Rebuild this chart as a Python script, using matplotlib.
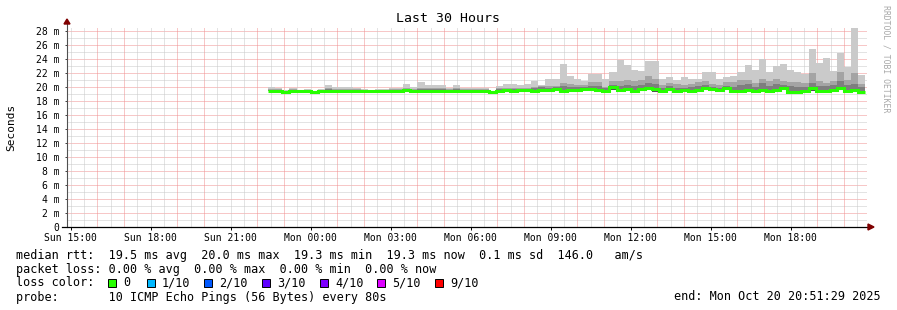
import matplotlib
matplotlib.use("Agg")
import matplotlib.pyplot as plt
from matplotlib.patches import Rectangle, Polygon
from matplotlib.lines import Line2D
import numpy as np

plt.rcParams['font.family'] = ['DejaVu Sans Mono', 'DejaVu Sans']

# ---------------- data ----------------
TITLE = "Last 30 Hours"
Y_LABEL = "Seconds"
WATERMARK = "RRDTOOL / TOBI OETIKER"

# time axis in hours since Sun 00:00
VIEW_START_H = 14 + 51 / 60 + 29 / 3600   # Sun 14:51:29
VIEW_END_H = 44 + 51 / 60 + 29 / 3600     # Mon 20:51:29
X_TICK_HOURS = [15, 18, 21, 24, 27, 30, 33, 36, 39, 42]
X_TICK_LABELS = ["Sun 15:00", "Sun 18:00", "Sun 21:00", "Mon 00:00", "Mon 03:00",
                 "Mon 06:00", "Mon 09:00", "Mon 12:00", "Mon 15:00", "Mon 18:00"]
Y_TICKS = [0, 2, 4, 6, 8, 10, 12, 14, 16, 18, 20, 22, 24, 26, 28]
Y_TICK_LABELS = ["0", "2 m", "4 m", "6 m", "8 m", "10 m", "12 m", "14 m", "16 m",
                 "18 m", "20 m", "22 m", "24 m", "26 m", "28 m"]

# consolidated bins (16 min each) starting Sun 22:24
BIN_START_H = 22.4
BIN_MINUTES = 16

# median rtt per bin (ms)
median = [19.5, 19.5, 19.3, 19.5, 19.5, 19.5, 19.3, 19.5, 19.5, 19.5,
          19.5, 19.5, 19.5, 19.5, 19.5, 19.5, 19.5, 19.5, 19.5, 19.6,
          19.5, 19.5, 19.5, 19.5, 19.5, 19.5, 19.5, 19.5, 19.5, 19.5,
          19.5, 19.3, 19.5, 19.6, 19.5, 19.6, 19.6, 19.5, 19.6, 19.6,
          19.7, 19.5, 19.6, 19.6, 19.7, 19.7, 19.6, 19.5, 20.0, 19.6,
          19.7, 19.5, 19.7, 19.9, 19.7, 19.5, 19.7, 19.5, 19.6, 19.5,
          19.6, 19.9, 19.7, 19.6, 19.8, 19.5, 19.5, 19.6, 19.5, 19.6,
          19.4, 19.6, 19.8, 19.3, 19.3, 19.5, 19.8, 19.5, 19.5, 19.6,
          19.8, 19.5, 19.6, 19.3]
# smallest ping per bin (ms)
ping_min = [19.4, 19.4, 19.2, 19.4, 19.4, 19.4, 19.2, 19.4, 19.4, 19.4,
            19.4, 19.4, 19.4, 19.4, 19.4, 19.4, 19.4, 19.4, 19.4, 19.5,
            19.4, 19.4, 19.4, 19.4, 19.4, 19.4, 19.4, 19.4, 19.4, 19.4,
            19.4, 19.2, 19.4, 19.5, 19.4, 19.5, 19.5, 19.4, 19.4, 19.5,
            19.5, 19.3, 19.4, 19.4, 19.6, 19.4, 19.5, 19.4, 19.6, 19.5,
            19.5, 19.4, 19.5, 19.7, 19.3, 19.4, 19.6, 19.4, 19.5, 19.4,
            19.5, 19.7, 19.6, 19.5, 19.6, 19.4, 19.2, 19.5, 19.4, 19.3,
            19.3, 19.5, 19.6, 19.2, 19.1, 19.4, 19.5, 19.4, 19.4, 19.4,
            19.6, 19.2, 19.4, 19.2]
# upper smoke levels per bin (ms): 8th, 9th and 10th of 10 sorted pings
ping_8 = [19.6, 19.6, 19.4, 19.6, 19.6, 19.6, 19.4, 19.6, 19.7, 19.6,
          19.6, 19.6, 19.6, 19.6, 19.6, 19.6, 19.6, 19.6, 19.6, 19.7,
          19.6, 19.7, 19.7, 19.7, 19.7, 19.6, 19.7, 19.6, 19.6, 19.6,
          19.6, 19.4, 19.7, 19.7, 19.7, 19.7, 19.7, 19.8, 20.0, 19.9,
          20.0, 20.2, 20.0, 20.0, 20.0, 20.2, 20.1, 19.8, 20.3, 20.2,
          20.3, 20.2, 20.3, 20.6, 20.4, 19.9, 20.1, 19.9, 19.9, 20.0,
          20.1, 20.3, 20.0, 19.9, 20.2, 20.0, 20.3, 20.4, 20.0, 20.6,
          20.2, 20.4, 20.3, 20.1, 20.0, 20.0, 20.6, 20.2, 20.1, 20.3,
          20.8, 20.3, 20.5, 20.0]
ping_9 = [19.7, 19.7, 19.5, 19.7, 19.6, 19.6, 19.4, 19.6, 19.8, 19.7,
          19.7, 19.7, 19.7, 19.6, 19.6, 19.6, 19.6, 19.7, 19.7, 19.9,
          19.7, 19.9, 19.8, 19.8, 19.8, 19.7, 19.8, 19.7, 19.7, 19.7,
          19.7, 19.4, 19.8, 19.9, 19.8, 19.9, 19.9, 20.0, 20.2, 20.1,
          20.2, 20.6, 20.4, 20.3, 20.3, 20.7, 20.7, 20.0, 20.8, 20.9,
          21.0, 20.9, 21.0, 21.6, 21.1, 20.3, 20.6, 20.5, 20.3, 20.5,
          20.7, 20.8, 20.5, 20.3, 20.7, 20.7, 21.0, 21.0, 20.6, 21.2,
          20.8, 21.1, 20.8, 20.7, 20.7, 20.6, 22.0, 20.8, 20.6, 20.8,
          22.1, 21.0, 22.0, 20.5]
ping_max = [20.0, 19.9, 19.6, 19.9, 19.6, 19.7, 19.5, 19.7, 20.3, 20.0,
            20.0, 20.0, 19.9, 19.7, 19.6, 19.7, 19.7, 19.8, 19.9, 20.5,
            20.0, 20.7, 20.3, 20.3, 20.3, 19.8, 20.3, 19.9, 19.8, 19.8,
            19.8, 19.5, 20.1, 20.5, 20.4, 20.3, 20.5, 20.9, 20.3, 21.1,
            21.2, 23.3, 21.6, 21.1, 20.9, 21.9, 21.9, 21.2, 22.1, 23.9,
            23.1, 22.4, 22.3, 23.7, 23.7, 21.2, 21.5, 21.0, 21.5, 21.2,
            21.1, 22.1, 22.2, 21.1, 21.5, 21.6, 22.2, 23.1, 22.4, 24.0,
            22.1, 23.0, 23.3, 22.4, 22.1, 21.8, 25.4, 23.5, 24.2, 22.3,
            24.9, 22.8, 28.4, 21.7]

LEGEND_ROW1 = "median rtt:  19.5 ms avg  20.0 ms max  19.3 ms min  19.3 ms now  0.1 ms sd  146.0   am/s"
LEGEND_ROW2 = "packet loss: 0.00 % avg  0.00 % max  0.00 % min  0.00 % now"
LOSS_TITLE = "loss color:"
LOSS_LABELS = ["0", "1/10", "2/10", "3/10", "4/10", "5/10", "9/10"]
LOSS_COLORS = ["#26ff00", "#00b8ff", "#0059ff", "#5e00ff", "#7e00ff", "#dd00ff", "#ff0000"]
PROBE_TEXT = "probe:       10 ICMP Echo Pings (56 Bytes) every 80s"
END_TEXT = "end: Mon Oct 20 20:51:29 2025"

SMOKE_COLORS = ["#cacaca", "#a4a4a4", "#7e7e7e", "#505050"]
MEDIAN_COLOR = "#26ff00"

# ---------------- figure ----------------
W, H, DPI = 897, 310, 100
fig = plt.figure(figsize=(W / DPI, H / DPI), dpi=DPI)
fig.patch.set_facecolor("white")

PL, PR, PB, PT = 67, 867, 227, 27   # plot area in pixels (from top)
ax = fig.add_axes([PL / W, (H - PB) / H, (PR - PL) / W, (PB - PT) / H])
ax.set_facecolor("white")
ax.set_xlim(VIEW_START_H, VIEW_END_H)
ax.set_ylim(0, (PB - PT) / 7.0)
for s in ax.spines.values():
    s.set_visible(False)

dot = (0, (1, 1))
GRID_MINOR = "#c8c8c8"
GRID_MAJOR = "#f09090"

# horizontal grid
for v in range(1, 29):
    ax.axhline(v, color=GRID_MAJOR if v % 2 == 0 else GRID_MINOR,
               lw=0.72, ls=dot, zorder=0, snap=True)
# vertical grid
t = np.ceil(VIEW_START_H * 2) / 2
while t < VIEW_END_H:
    is_hour = abs(t - round(t)) < 1e-6
    is_label = is_hour and int(round(t)) % 3 == 0
    col = GRID_MAJOR if (is_hour and not is_label) else GRID_MINOR
    ax.axvline(t, color=col, lw=0.72, ls=dot, zorder=0, snap=True)
    t += 0.5

n = len(median)
edges = BIN_START_H + np.arange(n + 1) * BIN_MINUTES / 60.0
lo = np.array(ping_min)
for top, c in zip([ping_max, ping_9, ping_8, median], SMOKE_COLORS):
    ax.stairs(np.array(top), edges, baseline=lo, fill=True, color=c, lw=0, zorder=2)
ax.stairs(np.array(median), edges, baseline=None, color=MEDIAN_COLOR,
          lw=2.2, zorder=3)

ax.set_xticks(X_TICK_HOURS)
ax.set_xticklabels(X_TICK_LABELS)
ax.set_yticks(Y_TICKS)
ax.set_yticklabels(Y_TICK_LABELS)
ax.tick_params(axis="x", length=2.2, width=0.7, color="#000000", pad=1.8,
               labelsize=7, labelcolor="#000000")
ax.tick_params(axis="y", length=1.5, width=0.7, color="#404040", pad=4.0,
               labelsize=7, labelcolor="#000000")


def fx(x):
    return x / W


def fy(y):
    return 1 - y / H


# axis lines with arrows
fig.add_artist(Line2D([fx(PL), fx(PL)], [fy(PB), fy(22)], color="#505050",
                      lw=0.8, transform=fig.transFigure, zorder=5))
fig.add_artist(Line2D([fx(62), fx(870)], [fy(PB), fy(PB)], color="#000000",
                      lw=0.9, transform=fig.transFigure, zorder=5))
fig.add_artist(Polygon([(fx(64), fy(24)), (fx(70), fy(24)), (fx(67), fy(19))],
                       closed=True, color="#7f0000", transform=fig.transFigure, zorder=6))
fig.add_artist(Polygon([(fx(868), fy(224)), (fx(868), fy(230)), (fx(874), fy(227))],
                       closed=True, color="#7f0000", transform=fig.transFigure, zorder=6))

# texts
fig.text(fx(448), fy(19), TITLE, ha="center", va="center", fontsize=9.5, color="#000000")
fig.text(fx(11), fy(127), Y_LABEL, ha="center", va="center", rotation=90,
         fontsize=8, color="#000000")
fig.text(fx(886), fy(59), WATERMARK, ha="center", va="center", rotation=270,
         fontsize=5.9, color="#a8a8a8")

LX = 16
fig.text(fx(LX), fy(258.5), LEGEND_ROW1, ha="left", va="baseline", fontsize=8.5)
fig.text(fx(LX), fy(272.5), LEGEND_ROW2, ha="left", va="baseline", fontsize=8.5)
fig.text(fx(LX), fy(286.5), LOSS_TITLE, ha="left", va="baseline", fontsize=8.5)
box_x = [108, 147, 204, 262, 320, 377, 435]
for bx, lab, col in zip(box_x, LOSS_LABELS, LOSS_COLORS):
    fig.add_artist(Rectangle((fx(bx), fy(287)), 8 / W, 8 / H, facecolor=col,
                             edgecolor="#000000", lw=0.7, transform=fig.transFigure))
    fig.text(fx(bx + 15), fy(286.5), lab, ha="left", va="baseline", fontsize=8.5)
fig.text(fx(LX), fy(300.5), PROBE_TEXT, ha="left", va="baseline", fontsize=8.5)
fig.text(fx(881), fy(300.5), END_TEXT, ha="right", va="baseline", fontsize=8.5)

fig.savefig("out.png", dpi=DPI, facecolor="white")
